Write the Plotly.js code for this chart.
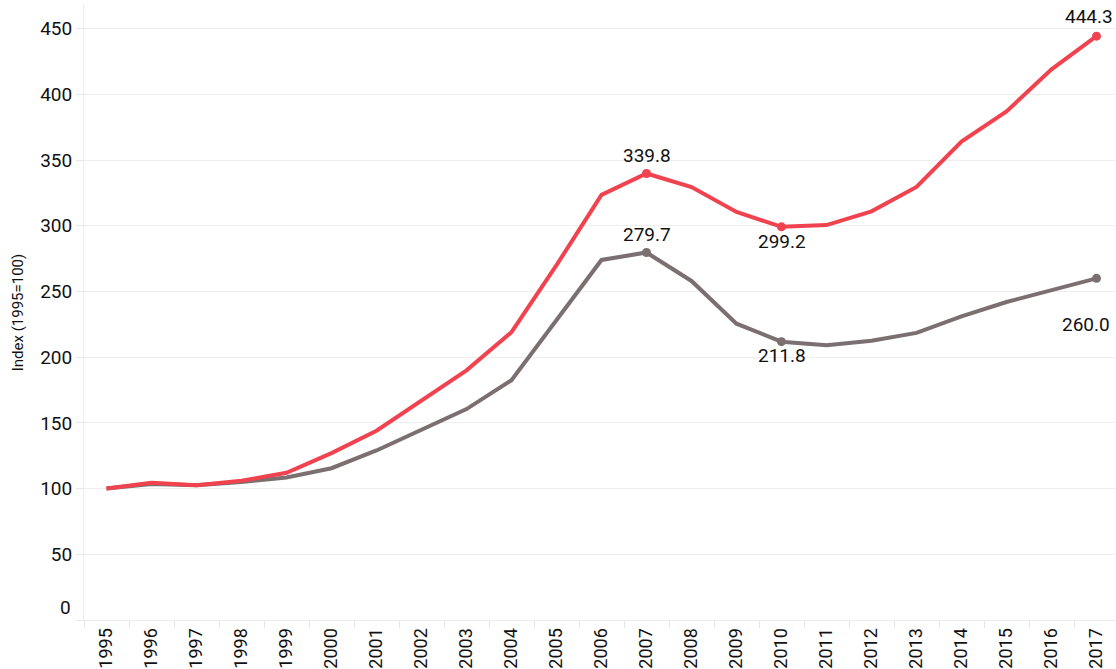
<!DOCTYPE html>
<html>
<head>
<meta charset="utf-8">
<script src="https://cdn.plot.ly/plotly-3.0.1.min.js"></script>
<style>html,body{margin:0;padding:0;overflow:hidden;background:#fff}</style>
</head>
<body>
<div id="chart"></div>
<script>
const years = ['1995','1996','1997','1998','1999','2000','2001','2002','2003','2004','2005','2006','2007','2008','2009','2010','2011','2012','2013','2014','2015','2016','2017'];
const redSeries = [100,104.5,102.5,106,112,127,144,167,190,219,270,323.5,339.8,329.5,310.5,299.2,300.5,311,329.5,364,387,419,444.3];
const graySeries = [100,103.5,102.5,105,108.5,115.5,129,144.5,160.5,182.5,228,274,279.7,258,225.5,211.8,209,212.5,218.5,231,242,251,260.0];
const yTicks = [0,50,100,150,200,250,300,350,400,450];
const redMarked = ['2007','2010','2017'];
const grayMarked = ['2007','2010','2017'];

const RED = '#f0434f';
const GRAY = '#7b6f6f';

function pick(series, marked){
  return {x: marked, y: marked.map(m => series[years.indexOf(m)])};
}
const rm = pick(redSeries, redMarked);
const gm = pick(graySeries, grayMarked);

const traces = [
  {x: years, y: graySeries, type:'scatter', mode:'lines', line:{color:GRAY, width:4}, hoverinfo:'skip'},
  {x: years, y: redSeries, type:'scatter', mode:'lines', line:{color:RED, width:4}, hoverinfo:'skip'},
  {x: gm.x, y: gm.y, type:'scatter', mode:'markers', marker:{color:GRAY, size:9}, hoverinfo:'skip'},
  {x: rm.x, y: rm.y, type:'scatter', mode:'markers', marker:{color:RED, size:9}, hoverinfo:'skip'}
];

// [xshift, yshift, xanchor]
const shifts = {
  red: {'2007':[0,18,'center'],'2010':[0,-15,'center'],'2017':[18,20,'right']},
  gray:{'2007':[0,18,'center'],'2010':[0,-14,'center'],'2017':[-11,-46,'center']}
};
const annotations = [];
function addLabels(m, sh){
  m.x.forEach((x,i)=>{
    const s = sh[x];
    annotations.push({xref:'x', yref:'y', x: years.indexOf(x), y: m.y[i], text: m.y[i].toFixed(1),
      showarrow:false, xshift:s[0], yshift:s[1], xanchor:s[2], font:{size:19, color:'#111'}});
  });
}
addLabels(rm, shifts.red);
addLabels(gm, shifts.gray);
annotations.push({xref:'paper',yref:'y',x:0,y:0,xanchor:'right',xshift:-11,yshift:13,text:'0',showarrow:false,font:{size:19,color:'#111'}});

const layout = {
  width:1119, height:669,
  margin:{l:84, r:0, t:5, b:49},
  paper_bgcolor:'#fff', plot_bgcolor:'#fff',
  font:{family:'Roboto, "Open Sans", sans-serif', color:'#111'},
  showlegend:false,
  xaxis:{
    type:'category', tickson:'boundaries', ticks:'outside', ticklen:7, tickcolor:'#e6e6e6', tickwidth:1,
    tickangle:-90, tickfont:{size:18, color:'#111'},
    showgrid:false, showline:true, linecolor:'#ececec', linewidth:1, zeroline:false,
    range:[-0.5, 22.5]
  },
  yaxis:{
    range:[0,468], tickvals:yTicks, ticktext:yTicks.map(v=>v===0?'':String(v)),
    ticks:'outside', ticklen:7, tickcolor:'#e6e6e6', tickfont:{size:19, color:'#111'},
    showgrid:true, gridcolor:'#eeeeee', gridwidth:1,
    showline:true, linecolor:'#ececec', zeroline:false,
    title:{text:'Index (1995=100)', font:{size:15, color:'#111'}, standoff:12}
  },
  annotations: annotations
};

Plotly.newPlot('chart', traces, layout, {displayModeBar:false, staticPlot:true});
</script>
</body>
</html>
